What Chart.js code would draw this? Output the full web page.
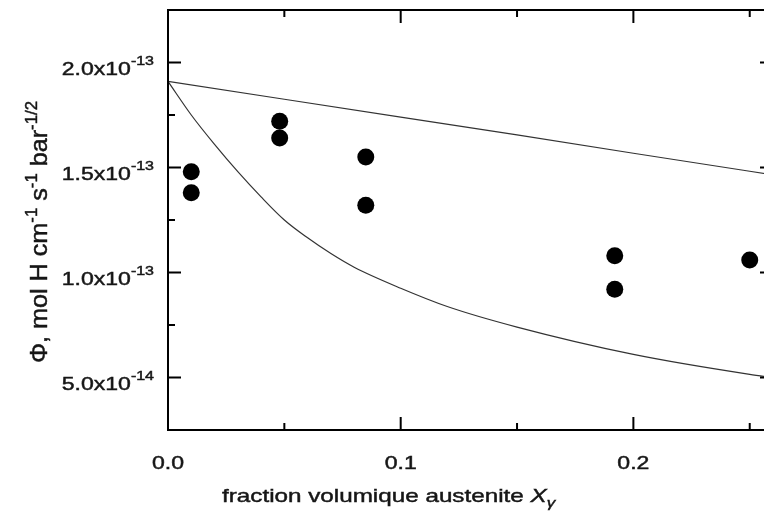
<!DOCTYPE html>
<html>
<head>
<meta charset="utf-8">
<script src="https://cdn.jsdelivr.net/npm/chart.js@4.4.0/dist/chart.umd.min.js"></script>
<style>
  html, body { margin: 0; padding: 0; background: #fff; overflow: hidden; }
  #wrap { width: 790px; height: 515px; }
</style>
</head>
<body>
<div id="wrap"><canvas id="chart"></canvas></div>
<script>
// measured permeability points
const pointsX = [0.010, 0.010, 0.048, 0.048, 0.085, 0.085, 0.192, 0.192, 0.250];
const pointsY = [1.48e-13, 1.38e-13, 1.72e-13, 1.64e-13, 1.55e-13, 1.32e-13, 1.08e-13, 0.92e-13, 1.06e-13];

// upper bound curve
const upperX = [0, 0.05, 0.10, 0.15, 0.20, 0.25, 0.26];
const upperY = [1.91e-13, 1.825e-13, 1.74e-13, 1.655e-13, 1.568e-13, 1.482e-13, 1.465e-13];

// lower bound curve
const lowerX = [0, 0.01, 0.02, 0.03, 0.04, 0.05, 0.06, 0.07, 0.08, 0.10, 0.12, 0.15, 0.20, 0.25, 0.26];
const lowerY = [1.91e-13, 1.75e-13, 1.61e-13, 1.48e-13, 1.36e-13, 1.25e-13, 1.165e-13, 1.09e-13, 1.025e-13,
                0.925e-13, 0.838e-13, 0.74e-13, 0.61e-13, 0.515e-13, 0.50e-13];

// axes
const xMajor = [0, 0.1, 0.2];
const xMinor = [0.05, 0.15, 0.25];
const xTickLabels = ['0.0', '0.1', '0.2'];
const yMajor = [0.5e-13, 1.0e-13, 1.5e-13, 2.0e-13];
const yMinor = [0.75e-13, 1.25e-13, 1.75e-13];
const yTickLabels = [['5.0x10', '-14'], ['1.0x10', '-13'], ['1.5x10', '-13'], ['2.0x10', '-13']];

const FONT = '"Liberation Sans", Arial, sans-serif';
const SX = 1.28; // the original text is stretched horizontally

function toXY(xs, ys) {
    return xs.map((x, i) => ({ x: x, y: ys[i] }));
}

function runsWidth(ctx, runs) {
    let w = 0;
    runs.forEach(r => { ctx.font = r.font; w += ctx.measureText(r.t).width; });
    return w;
}

function drawRuns(ctx, runs, x, y, align, sx, sy) {
    const w = runsWidth(ctx, runs);
    let start = 0;
    if (align === 'right') start = -w;
    if (align === 'center') start = -w / 2;
    ctx.save();
    ctx.translate(x, y);
    ctx.scale(sx, sy || 1);
    ctx.lineWidth = 0.45;
    let cx = start;
    runs.forEach(r => {
        ctx.font = r.font;
        ctx.fillText(r.t, cx, r.dy || 0);
        ctx.strokeText(r.t, cx, r.dy || 0);
        cx += ctx.measureText(r.t).width;
    });
    ctx.restore();
}

const framePlugin = {
    id: 'frame',
    afterDraw(chart) {
        const ctx = chart.ctx;
        const a = chart.chartArea;
        const xs = chart.scales.x, ys = chart.scales.y;
        ctx.save();
        ctx.strokeStyle = '#000';
        ctx.lineWidth = 2;
        ctx.strokeRect(a.left, a.top, a.right - a.left, a.bottom - a.top);

        ctx.beginPath();
        const tick = (vals, len) => {
            vals.forEach(v => {
                const px = xs.getPixelForValue(v);
                ctx.moveTo(px, a.bottom); ctx.lineTo(px, a.bottom - len);
                ctx.moveTo(px, a.top); ctx.lineTo(px, a.top + len);
            });
        };
        const ytick = (vals, len) => {
            vals.forEach(v => {
                const py = ys.getPixelForValue(v);
                ctx.moveTo(a.left, py); ctx.lineTo(a.left + len, py);
                ctx.moveTo(a.right, py); ctx.lineTo(a.right - len, py);
            });
        };
        tick(xMajor, 13); tick(xMinor, 7);
        ytick(yMajor, 13); ytick(yMinor, 7);
        ctx.stroke();

        ctx.fillStyle = '#161616';
        ctx.strokeStyle = '#161616';
        ctx.textBaseline = 'alphabetic';
        ctx.textAlign = 'left';

        // y tick labels
        yMajor.forEach((v, i) => {
            const py = ys.getPixelForValue(v);
            drawRuns(ctx, [
                { t: yTickLabels[i][0], font: '18px ' + FONT, dy: 12 },
                { t: yTickLabels[i][1], font: '12.5px ' + FONT, dy: 2 }
            ], 154, py, 'right', SX);
        });

        // x tick labels
        xMajor.forEach((v, i) => {
            const px = xs.getPixelForValue(v);
            drawRuns(ctx, [{ t: xTickLabels[i], font: '18px ' + FONT }], px, 469, 'center', SX);
        });

        // x title
        drawRuns(ctx, [
            { t: 'fraction volumique austenite ', font: '18.5px ' + FONT },
            { t: 'X', font: 'italic 18.5px ' + FONT },
            { t: 'γ', font: 'italic 13px ' + FONT, dy: 5 }
        ], 222, 502, 'left', 1.31);

        // y title, rotated
        const yRuns = [
            { t: 'Φ, mol H cm', font: '24px ' + FONT },
            { t: '-1', font: '16px ' + FONT, dy: -10 },
            { t: ' s', font: '24px ' + FONT },
            { t: '-1', font: '16px ' + FONT, dy: -10 },
            { t: ' bar', font: '24px ' + FONT },
            { t: '-1/2', font: '16px ' + FONT, dy: -10 }
        ];
        const len = runsWidth(ctx, yRuns);
        ctx.save();
        ctx.translate(47, 232);
        ctx.rotate(-Math.PI / 2);
        drawRuns(ctx, yRuns, 0, 0, 'center', 262 / len, 1);
        ctx.restore();
        ctx.restore();
    }
};

new Chart(document.getElementById('chart'), {
    type: 'scatter',
    data: {
        datasets: [
            {
                label: 'upper',
                data: toXY(upperX, upperY),
                showLine: true,
                borderColor: '#333',
                borderWidth: 1.2,
                pointRadius: 0,
                fill: false
            },
            {
                label: 'lower',
                data: toXY(lowerX, lowerY),
                showLine: true,
                borderColor: '#333',
                borderWidth: 1.2,
                pointRadius: 0,
                cubicInterpolationMode: 'monotone',
                fill: false
            },
            {
                label: 'mesures',
                data: toXY(pointsX, pointsY),
                pointRadius: 8.5,
                pointBackgroundColor: '#000',
                pointBorderColor: '#000',
                pointBorderWidth: 0
            }
        ]
    },
    options: {
        responsive: true,
        maintainAspectRatio: false,
        animation: false,
        layout: { padding: { left: 168, top: 10, right: 17, bottom: 85 } },
        plugins: { legend: { display: false }, tooltip: { enabled: false } },
        scales: {
            x: { type: 'linear', min: 0, max: 0.26, display: false },
            y: { type: 'linear', min: 0.25e-13, max: 2.25e-13, display: false }
        }
    },
    plugins: [framePlugin]
});
</script>
</body>
</html>
